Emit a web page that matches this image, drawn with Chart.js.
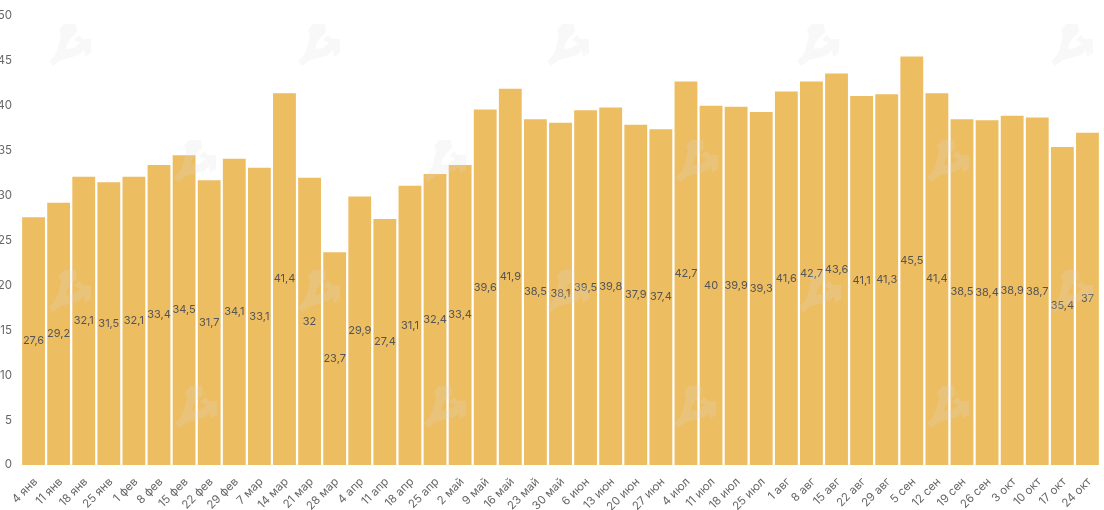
<!DOCTYPE html>
<html>
<head>
<meta charset="utf-8">
<style>
  html, body { margin: 0; padding: 0; background: #fff; }
  #caja { position: relative; width: 1104px; height: 510px; overflow: hidden; }
  #grafica { position: absolute; left: 0; top: 0; }
  #marcas { position: absolute; left: 0; top: 0; pointer-events: none; }
</style>
</head>
<body>
<div id="caja">
  <canvas id="grafica" width="1104" height="510"></canvas>
  <svg id="marcas" width="1104" height="510"></svg>
</div>
<script src="https://cdn.jsdelivr.net/npm/chart.js@4/dist/chart.umd.min.js"></script>
<script>
const semanas = ['4 янв','11 янв','18 янв','25 янв','1 фев','8 фев','15 фев','22 фев','29 фев','7 мар','14 мар','21 мар','28 мар','4 апр','11 апр','18 апр','25 апр','2 май','9 май','16 май','23 май','30 май','6 июн','13 июн','20 июн','27 июн','4 июл','11 июл','18 июл','25 июл','1 авг','8 авг','15 авг','22 авг','29 авг','5 сен','12 сен','19 сен','26 сен','3 окт','10 окт','17 окт','24 окт'];
const valores = [27.6,29.2,32.1,31.5,32.1,33.4,34.5,31.7,34.1,33.1,41.4,32,23.7,29.9,27.4,31.1,32.4,33.4,39.6,41.9,38.5,38.1,39.5,39.8,37.9,37.4,42.7,40,39.9,39.3,41.6,42.7,43.6,41.1,41.3,45.5,41.4,38.5,38.4,38.9,38.7,35.4,37];
const ticksY = [0,5,10,15,20,25,30,35,40,45,50];

// centros de la marca de agua
const marcasAgua = [[70,45],[319,45],[568,45],[818,45],[1072,45],[195,161],[445,161],[697,161],[948,161],[70,291],[319,291],[568,291],[820,291],[1072,291],[196,407],[445,407],[695,407],[948,407]];

// etiquetas en el centro de cada barra
const etiquetas = {
  id: 'etiquetas',
  afterDatasetsDraw(chart) {
    const ctx = chart.ctx;
    ctx.save();
    ctx.font = '11px Inter';
    ctx.fillStyle = '#555';
    ctx.textAlign = 'center';
    ctx.textBaseline = 'middle';
    chart.getDatasetMeta(0).data.forEach((barra, i) => {
      const p = barra.getProps(['x','y','base'], true);
      ctx.fillText(String(valores[i]).replace('.', ','), p.x, (p.y + p.base) / 2);
    });
    ctx.restore();
  }
};

new Chart(document.getElementById('grafica'), {
  type: 'bar',
  data: {
    labels: semanas,
    datasets: [{
      data: valores,
      backgroundColor: '#edbd62',
      categoryPercentage: 1,
      barPercentage: 0.91
    }]
  },
  options: {
    responsive: false,
    animation: false,
    layout: { padding: { top: 16, right: 4, bottom: 0, left: 0 } },
    plugins: { legend: { display: false }, tooltip: { enabled: false } },
    scales: {
      x: {
        grid: { display: false },
        border: { display: false },
        afterFit(s) { s.height = 45; },
        ticks: { color: '#666', font: { family: 'Inter', size: 11.5 }, maxRotation: 45, minRotation: 45, autoSkip: false, padding: 2, labelOffset: 2 }
      },
      y: {
        min: 0,
        max: 50,
        grid: { display: false },
        border: { display: false },
        afterFit(s) { s.width = 21; },
        afterBuildTicks(s) { s.ticks = ticksY.map(v => ({ value: v })); },
        ticks: { color: '#666', font: { family: 'Inter', size: 11.5 }, padding: 1 }
      }
    }
  },
  plugins: [etiquetas]
});

// marca de agua
const svg = document.getElementById('marcas');
svg.innerHTML = marcasAgua.map(m =>
  `<path transform="translate(${m[0]-21},${m[1]-21})" fill="#ddd" fill-opacity="0.2" d="M0 37 L6 31 L9 24 L12 11 L10 6 L15 0 L27 0 L28 8 L22 14 L18 20 L17 25 L25 24 L31 19 L25 16 L30 11 L34 15 L42 15 L42 29 L36 33 L35 26 L30 31 L20 34 L12 36 L4 42 Z M16 9 L22 9 L17 15 Z"/>`
).join('');
</script>
</body>
</html>
